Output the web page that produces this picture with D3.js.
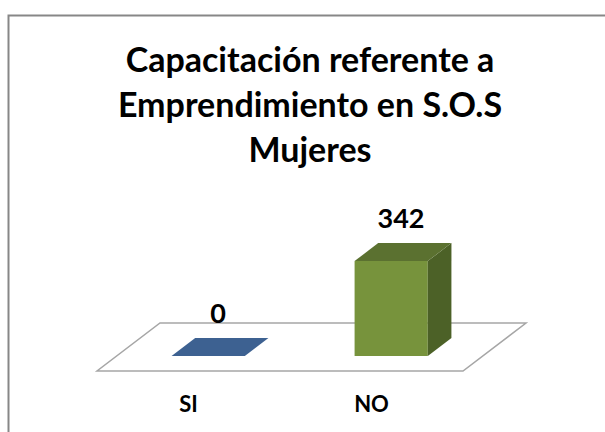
<!DOCTYPE html>
<html>
<head>
<meta charset="utf-8">
<script src="https://cdnjs.cloudflare.com/ajax/libs/d3/7.8.5/d3.min.js"></script>
<style>
	body { margin: 0; background: #fff; }
	text { font-family: Lato, "Open Sans", sans-serif; font-weight: bold; fill: #000; }
</style>
</head>
<body>
<div id="chart"></div>
<script>
/*
	Code for 3D column chart
*/

// Data
const categories = ["SI", "NO"];
const values = [0, 342];
const titleLines = ["Capacitación referente a", "Emprendimiento en S.O.S", "Mujeres"];

// Defining chart class
class BarChart3D {

	constructor(_parentElement, _width, _height) {
		this.parentElement = _parentElement;
		this.svgWidth = _width;
		this.svgHeight = _height;

		this.initializeChart();
	}

	initializeChart() {
		const vis = this;

		// Floor: front-left corner, width, and depth offset
		vis.origin = {x: 97, y: 371};
		vis.floorWidth = 366;
		vis.depth = {dx: 63, dy: -48};
		vis.barDepth = [0.3125, 0.6875];

		vis.svg = d3.select(vis.parentElement).append("svg")
			.attr("width", vis.svgWidth)
			.attr("height", vis.svgHeight);

		// Chart border (cut at right and bottom)
		vis.svg.append("rect")
			.attr("x", 8.5)
			.attr("y", 15.5)
			.attr("width", 620)
			.attr("height", 440)
			.attr("fill", "#fff")
			.attr("stroke", "#878787")
			.attr("stroke-width", 2);

		// Title
		vis.svg.append("g").selectAll("text")
			.data(titleLines)
			.enter().append("text")
			.attr("x", 310)
			.attr("y", (d, i) => 72 + i * 45)
			.attr("text-anchor", "middle")
			.style("font-size", "34px")
			.text(d => d);

		// Scales
		vis.x = d3.scaleBand()
			.domain(categories)
			.range([0, vis.floorWidth])
			.paddingInner(0.6)
			.paddingOuter(0.3);

		vis.y = d3.scaleLinear()
			.domain([0, 400])
			.range([0, 111]);

		vis.updateChart();
	}

	// projects (along, height, depth fraction) onto the page
	project(u, h, d) {
		const vis = this;
		return [vis.origin.x + u + d * vis.depth.dx, vis.origin.y + d * vis.depth.dy - h];
	}

	updateChart() {
		const vis = this;
		const line = d3.line();
		const bw = vis.x.bandwidth();
		const [d0, d1] = vis.barDepth;

		// Floor
		vis.svg.append("path")
			.attr("d", line([
				vis.project(0, 0, 0), vis.project(vis.floorWidth, 0, 0),
				vis.project(vis.floorWidth, 0, 1), vis.project(0, 0, 1)
			]) + "Z")
			.attr("fill", "#fff")
			.attr("stroke", "#a6a6a6")
			.attr("stroke-width", 1.5);

		const colors = {
			SI: {front: "#3d6191", side: "#2e4a70", top: "#3d6191"},
			NO: {front: "#77933c", side: "#4c6127", top: "#5b7130"}
		};

		const bars = vis.svg.selectAll(".bar")
			.data(categories.map((c, i) => ({cat: c, value: values[i]})))
			.enter().append("g")
			.attr("class", "bar");

		bars.each(function(d) {
			const g = d3.select(this);
			const u0 = vis.x(d.cat), u1 = u0 + bw;
			const h = vis.y(d.value);
			const c = colors[d.cat];

			if (h > 0) {
				// front
				g.append("path")
					.attr("d", line([vis.project(u0, 0, d0), vis.project(u1, 0, d0),
						vis.project(u1, h, d0), vis.project(u0, h, d0)]) + "Z")
					.attr("fill", c.front);
				// side
				g.append("path")
					.attr("d", line([vis.project(u1, 0, d0), vis.project(u1, 0, d1),
						vis.project(u1, h, d1), vis.project(u1, h, d0)]) + "Z")
					.attr("fill", c.side);
			}
			// top
			g.append("path")
				.attr("d", line([vis.project(u0, h, d0), vis.project(u1, h, d0),
					vis.project(u1, h, d1), vis.project(u0, h, d1)]) + "Z")
				.attr("fill", c.top);

			// value label
			const p = vis.project(u0 + bw / 2, h, 0.5);
			g.append("text")
				.attr("x", p[0] - 2)
				.attr("y", p[1] - 24)
				.attr("text-anchor", "middle")
				.style("font-size", "27px")
				.text(d.value);
		});

		// Category labels
		vis.svg.append("g").selectAll("text")
			.data(categories)
			.enter().append("text")
			.attr("x", d => vis.origin.x + vis.x(d) + bw / 2)
			.attr("y", 412)
			.attr("text-anchor", "middle")
			.style("font-size", "22px")
			.text(d => d);
	}
}

new BarChart3D("#chart", 605, 432);
</script>
</body>
</html>
